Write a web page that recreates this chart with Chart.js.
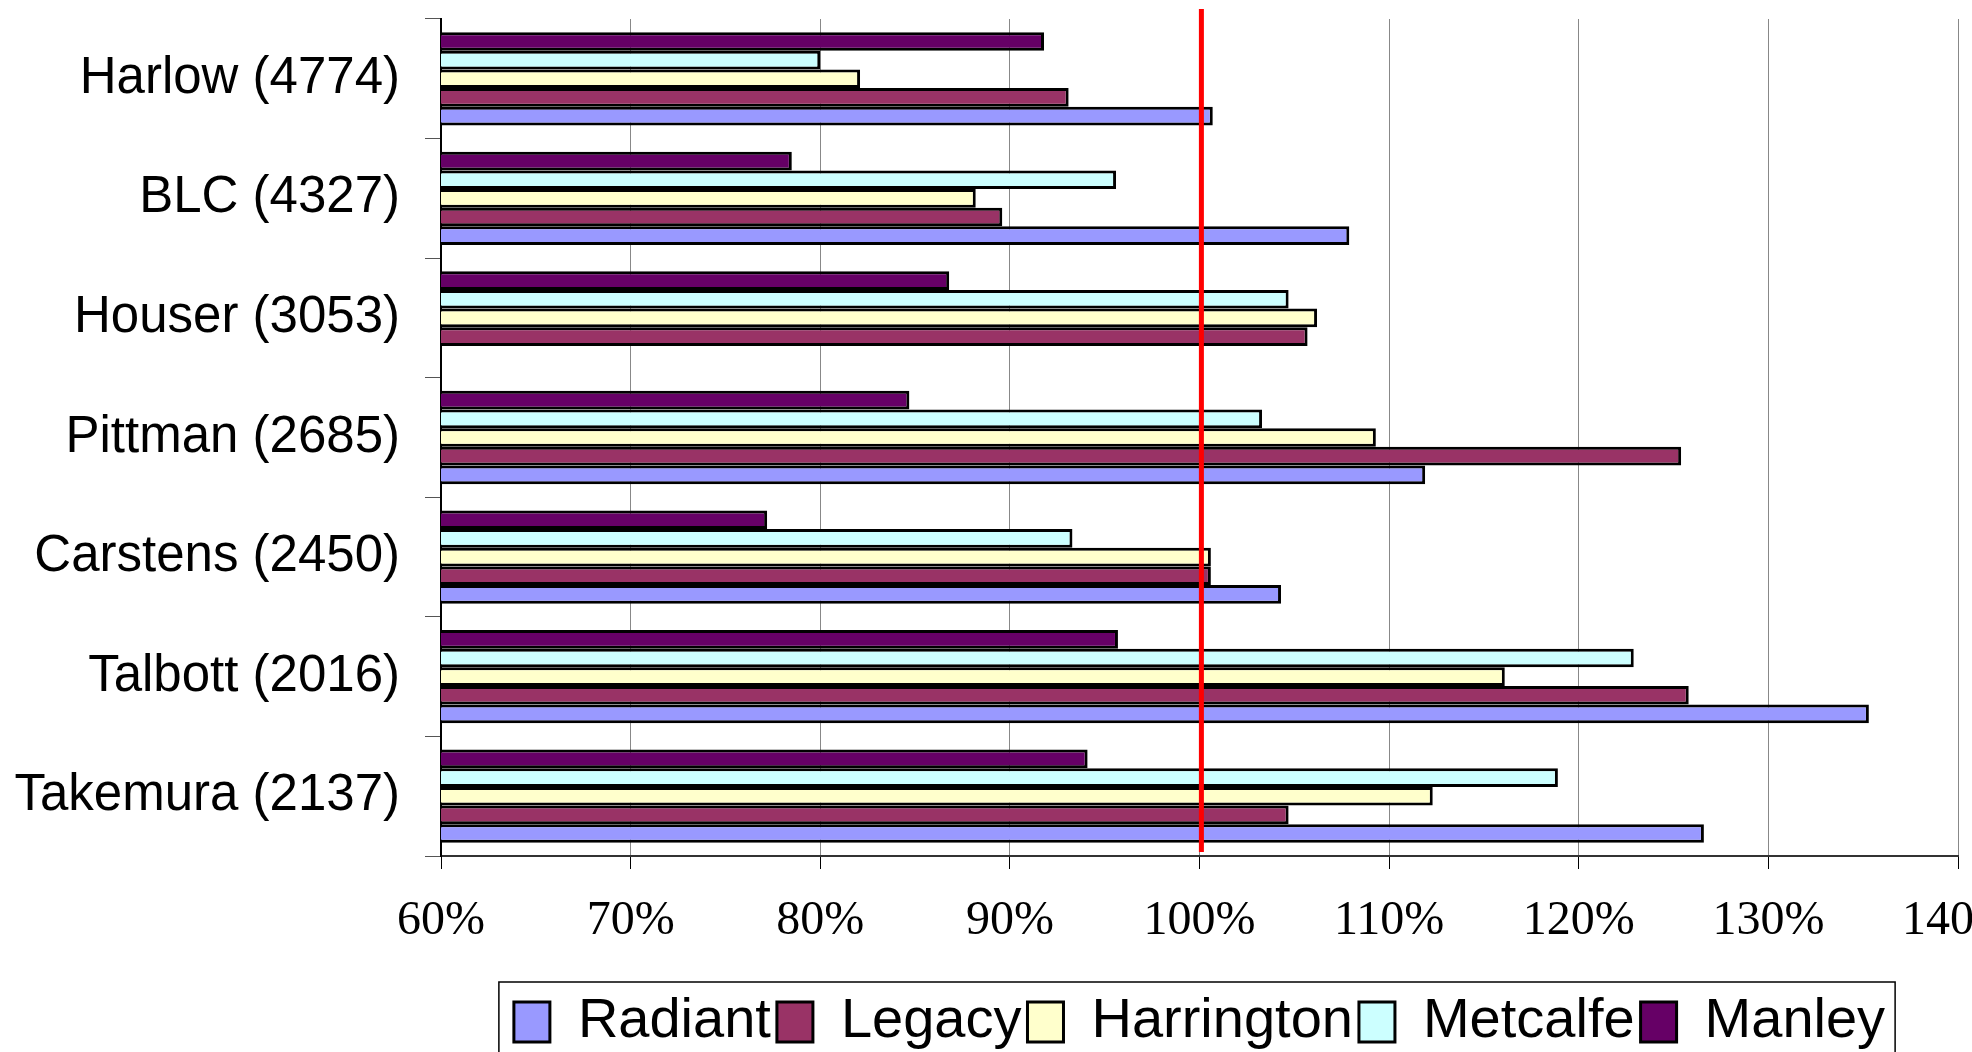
<!DOCTYPE html>
<html>
<head>
<meta charset="utf-8">
<title>Site comparison</title>
<script src="https://cdn.jsdelivr.net/npm/chart.js@4.4.1/dist/chart.umd.min.js"></script>
<style>
  html, body { margin: 0; padding: 0; background: #fff; overflow: hidden; }
  #chart { display: block; }
</style>
</head>
<body>
<canvas id="chart" width="1972" height="1060"></canvas>
<script>
// --- DATA ---
// categories listed top to bottom as they appear on the chart
const categories = [
  "Harlow (4774)",
  "BLC (4327)",
  "Houser (3053)",
  "Pittman (2685)",
  "Carstens (2450)",
  "Talbott (2016)",
  "Takemura (2137)",
];

const radiant = [100.7, 107.9, null, 111.9, 104.3, 135.3, 126.6];
const legacy = [93.1, 89.6, 105.7, 125.4, 100.6, 125.8, 104.7];
const harrington = [82.1, 88.2, 106.2, 109.3, 100.6, 116.1, 112.3];
const metcalfe = [80.0, 95.6, 104.7, 103.3, 93.3, 122.9, 118.9];
const manley = [91.8, 78.5, 86.8, 84.7, 77.2, 95.7, 94.1];

const xTicks = [60, 70, 80, 90, 100, 110, 120, 130, 140];
const targetLine = 100.1;

// --- PLUGINS ---
// red target line at 100%
const targetLinePlugin = {
  id: "targetLine",
  afterDatasetsDraw(chart) {
    const { ctx, chartArea, scales } = chart;
    const x = scales.x.getPixelForValue(targetLine);
    ctx.save();
    ctx.strokeStyle = "#ff0000";
    ctx.lineWidth = 5;
    ctx.beginPath();
    ctx.moveTo(x, chartArea.top - 10);
    ctx.lineTo(x, chartArea.bottom - 4);
    ctx.stroke();
    ctx.restore();
  },
};

// frame round the legend items
const legendFramePlugin = {
  id: "legendFrame",
  afterDraw(chart) {
    const legend = chart.legend;
    if (!legend || !legend.legendHitBoxes.length) return;
    const boxes = legend.legendHitBoxes;
    const left = Math.min(...boxes.map((b) => b.left)) - 15;
    const right = Math.max(...boxes.map((b) => b.left + b.width)) + 10;
    const top = legend.top - 6;
    const ctx = chart.ctx;
    ctx.save();
    ctx.strokeStyle = "#000";
    ctx.lineWidth = 1.5;
    ctx.strokeRect(left, top, right - left, chart.height + 20 - top);
    ctx.restore();
  },
};

// --- CHART ---
const barStyle = { borderColor: "#000", borderWidth: 3, borderSkipped: false };

new Chart(document.getElementById("chart").getContext("2d"), {
  type: "bar",
  data: {
    labels: categories,
    // dataset order = top to bottom inside each group
    datasets: [
      { label: "Manley", data: manley, backgroundColor: "#660066", ...barStyle },
      { label: "Metcalfe", data: metcalfe, backgroundColor: "#ccffff", ...barStyle },
      { label: "Harrington", data: harrington, backgroundColor: "#ffffcc", ...barStyle },
      { label: "Legacy", data: legacy, backgroundColor: "#993366", ...barStyle },
      { label: "Radiant", data: radiant, backgroundColor: "#9999ff", ...barStyle },
    ],
  },
  options: {
    indexAxis: "y",
    responsive: false,
    maintainAspectRatio: false,
    animation: false,
    categoryPercentage: 0.78,
    barPercentage: 1,
    layout: { padding: { top: 19, right: 14, left: 0, bottom: 0 } },
    plugins: {
      tooltip: { enabled: false },
      legend: {
        position: "bottom",
        fullSize: false,
        reverse: true,
        labels: {
          color: "#000",
          font: { family: "'Liberation Sans', Arial, sans-serif", size: 56 },
          boxWidth: 36,
          boxHeight: 40,
          padding: 6,
        },
      },
    },
    scales: {
      x: {
        type: "linear",
        min: xTicks[0],
        max: xTicks[xTicks.length - 1],
        afterBuildTicks: (scale) => {
          scale.ticks = xTicks.map((v) => ({ value: v }));
        },
        afterFit: (scale) => {
          scale.height = 132;
          scale.paddingLeft = 0;
          scale.paddingRight = 0;
        },
        ticks: {
          color: "#000",
          padding: 24,
          maxRotation: 0,
          autoSkip: false,
          font: { family: "'Liberation Serif', 'Times New Roman', serif", size: 48 },
          callback: (v) => v + "%",
        },
        grid: { color: "#888", lineWidth: 1, tickColor: "#000", tickLength: 13 },
        border: { color: "#333", width: 2 },
      },
      y: {
        afterFit: (scale) => {
          scale.width = 441;
          scale.paddingTop = 0;
          scale.paddingBottom = 0;
        },
        ticks: {
          color: "#000",
          padding: 25,
          font: { family: "'Liberation Sans', Arial, sans-serif", size: 51 },
        },
        grid: {
          drawOnChartArea: false,
          tickLength: 16,
          color: "#555",
          tickColor: "#555",
          offset: true,
        },
        border: { color: "#000", width: 2 },
      },
    },
  },
  plugins: [targetLinePlugin, legendFramePlugin],
});
</script>
</body>
</html>
